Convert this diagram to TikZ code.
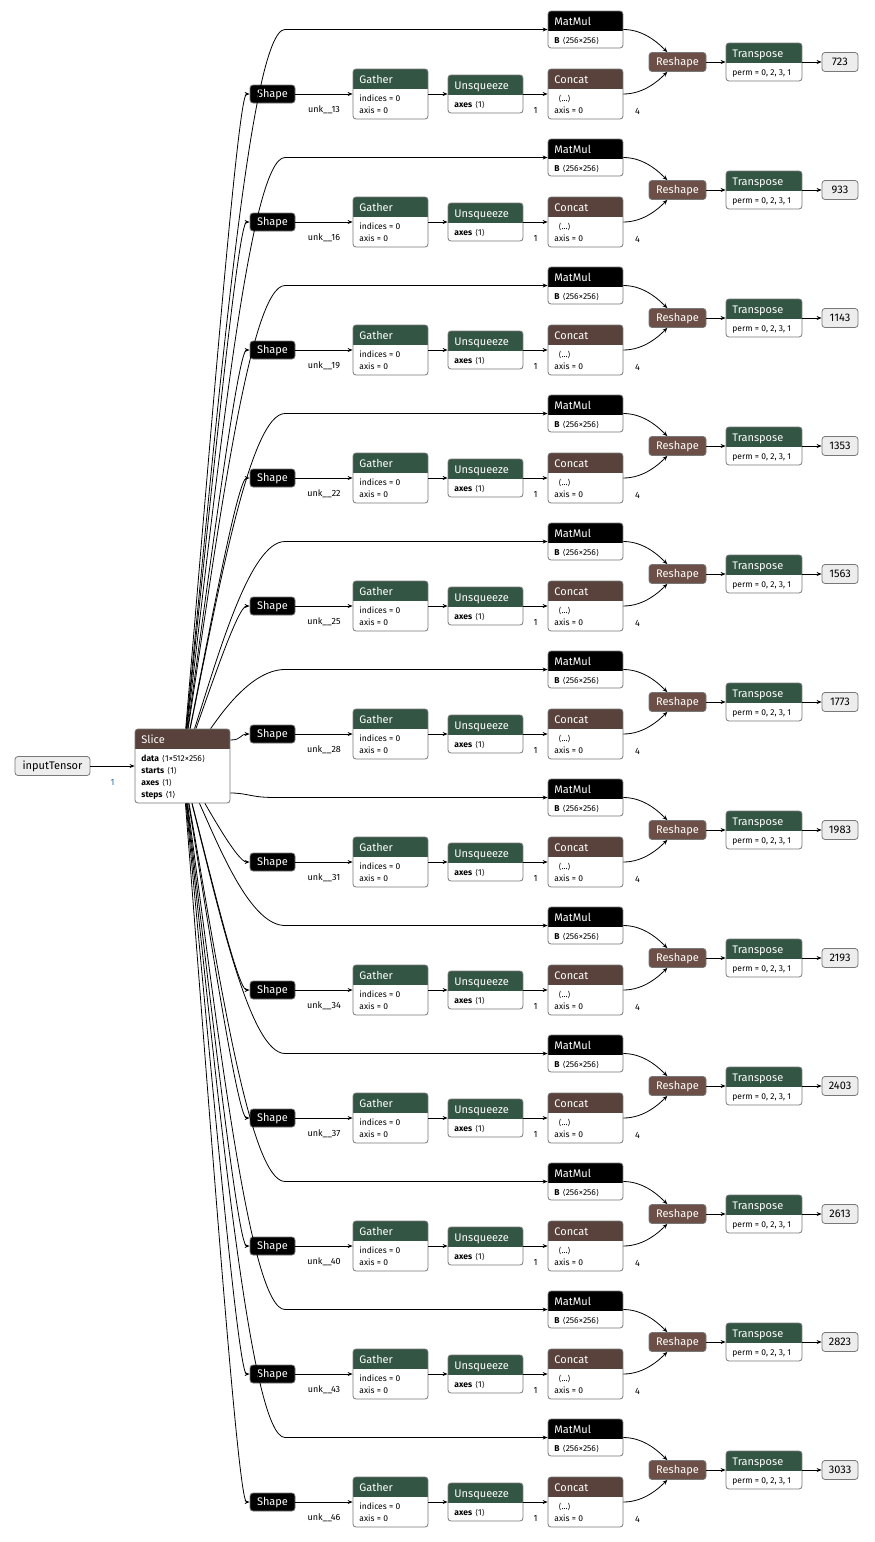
\documentclass[tikz,border=0pt]{standalone}
\usepackage{fontspec}
\setmainfont{Fira Sans}
\newfontfamily\brfont{DejaVu Sans}
\usepackage{tikz}
\usetikzlibrary{arrows.meta}

\definecolor{grn}{RGB}{51,85,68}
\definecolor{brn}{RGB}{89,66,59}
\definecolor{rbrn}{RGB}{108,79,71}
\definecolor{bord}{RGB}{120,120,120}
\definecolor{lblue}{RGB}{30,110,170}

\newcommand{\lang}{{\brfont\fontsize{8}{12}\selectfont ⟨}}
\newcommand{\rang}{{\brfont\fontsize{8}{12}\selectfont ⟩}}
\newcommand{\ang}[1]{\hspace{3pt}\lang#1\rang}

\tikzset{
  bare/.style={inner sep=0pt, minimum width=0pt, minimum height=0pt},
  op/.style n args={3}{draw=bord, line width=0.8pt, rounded corners=3pt, fill=white, inner sep=0pt, minimum width=75pt,
    path picture={
      \fill[#2, sharp corners] (path picture bounding box.north west) rectangle ([yshift=-20pt]path picture bounding box.north east);
      \node[bare, text=white, font=\fontsize{11}{13}\selectfont, anchor=base west] at ([xshift=6pt,yshift=-14pt]path picture bounding box.north west) {#1};
      \node[bare, font=\fontsize{8.5}{12}\selectfont, align=left, anchor=north west] at ([xshift=6pt,yshift=-24pt]path picture bounding box.north west) {\rule{0pt}{8pt}#3};
    }},
  mm/.style={op={MatMul}{black}{\textbf{B}\ang{256×256}}, minimum height=37pt},
  gat/.style={op={Gather}{grn}{indices = 0\\axis = 0}, minimum height=50pt},
  unsq/.style={op={Unsqueeze}{grn}{\textbf{axes}\ang{1}}, minimum height=38pt},
  cat/.style={op={Concat}{brn}{\hspace{4pt}\lang...\rang\\axis = 0}, minimum height=50pt},
  trp/.style={op={Transpose}{grn}{perm = 0, 2, 3, 1}, minimum width=76pt, minimum height=38pt},
  blk/.style={draw=bord, line width=0.8pt, rounded corners=3pt, fill=black, text=white, font=\fontsize{11}{13}\selectfont, inner sep=0pt, text height=8pt, text depth=2pt, minimum height=18pt},
  shp/.style={blk, minimum width=45pt},
  rsh/.style={blk, fill=rbrn, minimum width=57pt, minimum height=19pt},
  io/.style={draw=bord, line width=0.8pt, rounded corners=3pt, fill=black!7, font=\fontsize{11}{13}\selectfont, inner sep=0pt, text height=8pt, text depth=2pt, minimum height=19pt},
  edge/.style={line width=0.8pt, -{Stealth[length=5pt,width=4pt]}},
  lbl/.style={font=\fontsize{9}{11}\selectfont, inner sep=0pt}
}

\begin{document}
\begin{tikzpicture}[x=1pt,y=-1pt]
\useasboundingbox (0,0) rectangle (875,1542);

\node[io, minimum width=75pt] (in) at (52.5,766) {inputTensor};
\node[op={Slice}{brn}{\textbf{data}\ang{1×512×256}\\\textbf{starts}\ang{1}\\\textbf{axes}\ang{1}\\\textbf{steps}\ang{1}}, minimum width=95pt, minimum height=74pt] (sl) at (182.5,766) {};
\draw[edge] (in) -- node[lbl, text=lblue, yshift=-16pt] {1} (sl);

\node[mm] (m0) at (585.5,29.5) {}; \node[shp] (s0) at (272.5,94) {Shape}; \node[gat] (g0) at (390.5,94) {}; \node[unsq] (u0) at (485.5,94) {};
\node[cat] (c0) at (585.5,94) {}; \node[rsh] (r0) at (677.5,62) {Reshape}; \node[trp] (t0) at (764,62) {}; \node[io, minimum width=36pt] (o0) at (840,62) {723};
\draw[edge] (sl) .. controls (218.75,397.75) and (250,29.5) .. (285,29.5) -- (m0); \draw[edge] (sl) .. controls (211.25,430) and (238,94) .. (s0);
\draw[edge] (s0) -- node[lbl, yshift=-16pt] {unk\_\_13} (g0); \draw[edge] (g0) -- (u0); \draw[edge] (u0) -- node[lbl, yshift=-16pt] {1} (c0);
\draw[edge] (m0) .. controls (645,29.5) and (660,45) .. (r0); \draw[edge] (c0) .. controls (645,94) and (660,79) .. (r0) node[lbl, at start, xshift=14pt, yshift=-17pt] {4};
\draw[edge] (r0) -- (t0); \draw[edge] (t0) -- (o0);

\node[mm] (m1) at (585.5,157.5) {}; \node[shp] (s1) at (272.5,222) {Shape}; \node[gat] (g1) at (390.5,222) {}; \node[unsq] (u1) at (485.5,222) {};
\node[cat] (c1) at (585.5,222) {}; \node[rsh] (r1) at (677.5,190) {Reshape}; \node[trp] (t1) at (764,190) {}; \node[io, minimum width=36pt] (o1) at (840,190) {933};
\draw[edge] (sl) .. controls (218.75,461.75) and (250,157.5) .. (285,157.5) -- (m1); \draw[edge] (sl) .. controls (211.25,494) and (238,222) .. (s1);
\draw[edge] (s1) -- node[lbl, yshift=-16pt] {unk\_\_16} (g1); \draw[edge] (g1) -- (u1); \draw[edge] (u1) -- node[lbl, yshift=-16pt] {1} (c1);
\draw[edge] (m1) .. controls (645,157.5) and (660,173) .. (r1); \draw[edge] (c1) .. controls (645,222) and (660,207) .. (r1) node[lbl, at start, xshift=14pt, yshift=-17pt] {4};
\draw[edge] (r1) -- (t1); \draw[edge] (t1) -- (o1);

\node[mm] (m2) at (585.5,285.5) {}; \node[shp] (s2) at (272.5,350) {Shape}; \node[gat] (g2) at (390.5,350) {}; \node[unsq] (u2) at (485.5,350) {};
\node[cat] (c2) at (585.5,350) {}; \node[rsh] (r2) at (677.5,318) {Reshape}; \node[trp] (t2) at (764,318) {}; \node[io, minimum width=36pt] (o2) at (840,318) {1143};
\draw[edge] (sl) .. controls (218.75,525.75) and (250,285.5) .. (285,285.5) -- (m2); \draw[edge] (sl) .. controls (211.25,558) and (238,350) .. (s2);
\draw[edge] (s2) -- node[lbl, yshift=-16pt] {unk\_\_19} (g2); \draw[edge] (g2) -- (u2); \draw[edge] (u2) -- node[lbl, yshift=-16pt] {1} (c2);
\draw[edge] (m2) .. controls (645,285.5) and (660,301) .. (r2); \draw[edge] (c2) .. controls (645,350) and (660,335) .. (r2) node[lbl, at start, xshift=14pt, yshift=-17pt] {4};
\draw[edge] (r2) -- (t2); \draw[edge] (t2) -- (o2);

\node[mm] (m3) at (585.5,413.5) {}; \node[shp] (s3) at (272.5,478) {Shape}; \node[gat] (g3) at (390.5,478) {}; \node[unsq] (u3) at (485.5,478) {};
\node[cat] (c3) at (585.5,478) {}; \node[rsh] (r3) at (677.5,446) {Reshape}; \node[trp] (t3) at (764,446) {}; \node[io, minimum width=36pt] (o3) at (840,446) {1353};
\draw[edge] (sl) .. controls (218.75,589.75) and (250,413.5) .. (285,413.5) -- (m3); \draw[edge] (sl) .. controls (211.25,622) and (238,478) .. (s3);
\draw[edge] (s3) -- node[lbl, yshift=-16pt] {unk\_\_22} (g3); \draw[edge] (g3) -- (u3); \draw[edge] (u3) -- node[lbl, yshift=-16pt] {1} (c3);
\draw[edge] (m3) .. controls (645,413.5) and (660,429) .. (r3); \draw[edge] (c3) .. controls (645,478) and (660,463) .. (r3) node[lbl, at start, xshift=14pt, yshift=-17pt] {4};
\draw[edge] (r3) -- (t3); \draw[edge] (t3) -- (o3);

\node[mm] (m4) at (585.5,541.5) {}; \node[shp] (s4) at (272.5,606) {Shape}; \node[gat] (g4) at (390.5,606) {}; \node[unsq] (u4) at (485.5,606) {};
\node[cat] (c4) at (585.5,606) {}; \node[rsh] (r4) at (677.5,574) {Reshape}; \node[trp] (t4) at (764,574) {}; \node[io, minimum width=36pt] (o4) at (840,574) {1563};
\draw[edge] (sl) .. controls (218.75,653.75) and (250,541.5) .. (285,541.5) -- (m4); \draw[edge] (sl) .. controls (211.25,686) and (238,606) .. (s4);
\draw[edge] (s4) -- node[lbl, yshift=-16pt] {unk\_\_25} (g4); \draw[edge] (g4) -- (u4); \draw[edge] (u4) -- node[lbl, yshift=-16pt] {1} (c4);
\draw[edge] (m4) .. controls (645,541.5) and (660,557) .. (r4); \draw[edge] (c4) .. controls (645,606) and (660,591) .. (r4) node[lbl, at start, xshift=14pt, yshift=-17pt] {4};
\draw[edge] (r4) -- (t4); \draw[edge] (t4) -- (o4);

\node[mm] (m5) at (585.5,669.5) {}; \node[shp] (s5) at (272.5,734) {Shape}; \node[gat] (g5) at (390.5,734) {}; \node[unsq] (u5) at (485.5,734) {};
\node[cat] (c5) at (585.5,734) {}; \node[rsh] (r5) at (677.5,702) {Reshape}; \node[trp] (t5) at (764,702) {}; \node[io, minimum width=36pt] (o5) at (840,702) {1773};
\draw[edge] (sl) .. controls (218.75,717.75) and (250,669.5) .. (285,669.5) -- (m5); \draw[edge] ([yshift=26pt]sl.east) .. controls (242,740) and (240,734) .. (s5);
\draw[edge] (s5) -- node[lbl, yshift=-16pt] {unk\_\_28} (g5); \draw[edge] (g5) -- (u5); \draw[edge] (u5) -- node[lbl, yshift=-16pt] {1} (c5);
\draw[edge] (m5) .. controls (645,669.5) and (660,685) .. (r5); \draw[edge] (c5) .. controls (645,734) and (660,719) .. (r5) node[lbl, at start, xshift=14pt, yshift=-17pt] {4};
\draw[edge] (r5) -- (t5); \draw[edge] (t5) -- (o5);

\node[mm] (m6) at (585.5,797.5) {}; \node[shp] (s6) at (272.5,862) {Shape}; \node[gat] (g6) at (390.5,862) {}; \node[unsq] (u6) at (485.5,862) {};
\node[cat] (c6) at (585.5,862) {}; \node[rsh] (r6) at (677.5,830) {Reshape}; \node[trp] (t6) at (764,830) {}; \node[io, minimum width=36pt] (o6) at (840,830) {1983};
\draw[edge] ([yshift=-27pt]sl.east) .. controls (248,793) and (250,797.5) .. (275,797.5) -- (m6); \draw[edge] (sl) .. controls (211.25,814) and (238,862) .. (s6);
\draw[edge] (s6) -- node[lbl, yshift=-16pt] {unk\_\_31} (g6); \draw[edge] (g6) -- (u6); \draw[edge] (u6) -- node[lbl, yshift=-16pt] {1} (c6);
\draw[edge] (m6) .. controls (645,797.5) and (660,813) .. (r6); \draw[edge] (c6) .. controls (645,862) and (660,847) .. (r6) node[lbl, at start, xshift=14pt, yshift=-17pt] {4};
\draw[edge] (r6) -- (t6); \draw[edge] (t6) -- (o6);

\node[mm] (m7) at (585.5,925.5) {}; \node[shp] (s7) at (272.5,990) {Shape}; \node[gat] (g7) at (390.5,990) {}; \node[unsq] (u7) at (485.5,990) {};
\node[cat] (c7) at (585.5,990) {}; \node[rsh] (r7) at (677.5,958) {Reshape}; \node[trp] (t7) at (764,958) {}; \node[io, minimum width=36pt] (o7) at (840,958) {2193};
\draw[edge] (sl) .. controls (218.75,845.75) and (250,925.5) .. (285,925.5) -- (m7); \draw[edge] (sl) .. controls (211.25,878) and (238,990) .. (s7);
\draw[edge] (s7) -- node[lbl, yshift=-16pt] {unk\_\_34} (g7); \draw[edge] (g7) -- (u7); \draw[edge] (u7) -- node[lbl, yshift=-16pt] {1} (c7);
\draw[edge] (m7) .. controls (645,925.5) and (660,941) .. (r7); \draw[edge] (c7) .. controls (645,990) and (660,975) .. (r7) node[lbl, at start, xshift=14pt, yshift=-17pt] {4};
\draw[edge] (r7) -- (t7); \draw[edge] (t7) -- (o7);

\node[mm] (m8) at (585.5,1053.5) {}; \node[shp] (s8) at (272.5,1118) {Shape}; \node[gat] (g8) at (390.5,1118) {}; \node[unsq] (u8) at (485.5,1118) {};
\node[cat] (c8) at (585.5,1118) {}; \node[rsh] (r8) at (677.5,1086) {Reshape}; \node[trp] (t8) at (764,1086) {}; \node[io, minimum width=36pt] (o8) at (840,1086) {2403};
\draw[edge] (sl) .. controls (218.75,909.75) and (250,1053.5) .. (285,1053.5) -- (m8); \draw[edge] (sl) .. controls (211.25,942) and (238,1118) .. (s8);
\draw[edge] (s8) -- node[lbl, yshift=-16pt] {unk\_\_37} (g8); \draw[edge] (g8) -- (u8); \draw[edge] (u8) -- node[lbl, yshift=-16pt] {1} (c8);
\draw[edge] (m8) .. controls (645,1053.5) and (660,1069) .. (r8); \draw[edge] (c8) .. controls (645,1118) and (660,1103) .. (r8) node[lbl, at start, xshift=14pt, yshift=-17pt] {4};
\draw[edge] (r8) -- (t8); \draw[edge] (t8) -- (o8);

\node[mm] (m9) at (585.5,1181.5) {}; \node[shp] (s9) at (272.5,1246) {Shape}; \node[gat] (g9) at (390.5,1246) {}; \node[unsq] (u9) at (485.5,1246) {};
\node[cat] (c9) at (585.5,1246) {}; \node[rsh] (r9) at (677.5,1214) {Reshape}; \node[trp] (t9) at (764,1214) {}; \node[io, minimum width=36pt] (o9) at (840,1214) {2613};
\draw[edge] (sl) .. controls (218.75,973.75) and (250,1181.5) .. (285,1181.5) -- (m9); \draw[edge] (sl) .. controls (211.25,1006) and (238,1246) .. (s9);
\draw[edge] (s9) -- node[lbl, yshift=-16pt] {unk\_\_40} (g9); \draw[edge] (g9) -- (u9); \draw[edge] (u9) -- node[lbl, yshift=-16pt] {1} (c9);
\draw[edge] (m9) .. controls (645,1181.5) and (660,1197) .. (r9); \draw[edge] (c9) .. controls (645,1246) and (660,1231) .. (r9) node[lbl, at start, xshift=14pt, yshift=-17pt] {4};
\draw[edge] (r9) -- (t9); \draw[edge] (t9) -- (o9);

\node[mm] (m10) at (585.5,1309.5) {}; \node[shp] (s10) at (272.5,1374) {Shape}; \node[gat] (g10) at (390.5,1374) {}; \node[unsq] (u10) at (485.5,1374) {};
\node[cat] (c10) at (585.5,1374) {}; \node[rsh] (r10) at (677.5,1342) {Reshape}; \node[trp] (t10) at (764,1342) {}; \node[io, minimum width=36pt] (o10) at (840,1342) {2823};
\draw[edge] (sl) .. controls (218.75,1037.75) and (250,1309.5) .. (285,1309.5) -- (m10); \draw[edge] (sl) .. controls (211.25,1070) and (238,1374) .. (s10);
\draw[edge] (s10) -- node[lbl, yshift=-16pt] {unk\_\_43} (g10); \draw[edge] (g10) -- (u10); \draw[edge] (u10) -- node[lbl, yshift=-16pt] {1} (c10);
\draw[edge] (m10) .. controls (645,1309.5) and (660,1325) .. (r10); \draw[edge] (c10) .. controls (645,1374) and (660,1359) .. (r10) node[lbl, at start, xshift=14pt, yshift=-17pt] {4};
\draw[edge] (r10) -- (t10); \draw[edge] (t10) -- (o10);

\node[mm] (m11) at (585.5,1437.5) {}; \node[shp] (s11) at (272.5,1502) {Shape}; \node[gat] (g11) at (390.5,1502) {}; \node[unsq] (u11) at (485.5,1502) {};
\node[cat] (c11) at (585.5,1502) {}; \node[rsh] (r11) at (677.5,1470) {Reshape}; \node[trp] (t11) at (764,1470) {}; \node[io, minimum width=36pt] (o11) at (840,1470) {3033};
\draw[edge] (sl) .. controls (218.75,1101.75) and (250,1437.5) .. (285,1437.5) -- (m11); \draw[edge] (sl) .. controls (211.25,1134) and (238,1502) .. (s11);
\draw[edge] (s11) -- node[lbl, yshift=-16pt] {unk\_\_46} (g11); \draw[edge] (g11) -- (u11); \draw[edge] (u11) -- node[lbl, yshift=-16pt] {1} (c11);
\draw[edge] (m11) .. controls (645,1437.5) and (660,1453) .. (r11); \draw[edge] (c11) .. controls (645,1502) and (660,1487) .. (r11) node[lbl, at start, xshift=14pt, yshift=-17pt] {4};
\draw[edge] (r11) -- (t11); \draw[edge] (t11) -- (o11);

\end{tikzpicture}
\end{document}
